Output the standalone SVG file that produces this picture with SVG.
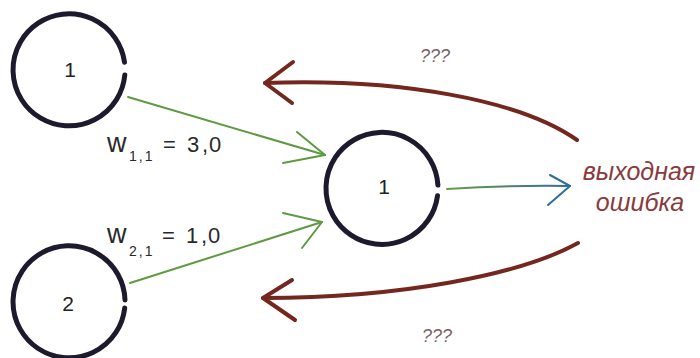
<svg xmlns="http://www.w3.org/2000/svg" width="700" height="358" viewBox="0 0 700 358">
<defs>
<linearGradient id="gb" x1="447" y1="0" x2="570" y2="0" gradientUnits="userSpaceOnUse">
<stop offset="0" stop-color="#6a9a48"/>
<stop offset="1" stop-color="#2f6e98"/>
</linearGradient>
</defs>
<style>
.node{fill:none;stroke:#1d1a2e;stroke-width:5;stroke-linecap:round}
.nl{font-family:"Liberation Sans",Arial,sans-serif;font-size:21px;fill:#222;text-anchor:middle}
.w{font-family:"Liberation Sans",Arial,sans-serif;font-size:22px;fill:#2a2a2a}
.wl{font-size:27px}
.sub{font-family:"Liberation Sans",Arial,sans-serif;font-size:14px;fill:#2a2a2a;letter-spacing:2px}
.g{fill:none;stroke:#5e9a42;stroke-width:2;stroke-linecap:round;stroke-linejoin:round}
.b{fill:none;stroke:url(#gb);stroke-width:2;stroke-linecap:round}
.bh{fill:none;stroke:#2f6e98;stroke-width:2;stroke-linecap:round;stroke-linejoin:round}
.r{fill:none;stroke:#74271f;stroke-width:4;stroke-linecap:round;stroke-linejoin:round}
.q{font-family:"Liberation Sans",Arial,sans-serif;font-style:italic;font-size:18px;fill:#7a6066}
.err{font-family:"Liberation Sans",Arial,sans-serif;font-style:italic;font-size:25px;fill:#8a3a3c;text-anchor:middle}
</style>
<g id="connectors">
<g id="w11">
<path class="g" d="M128,97 L325,155"/>
<polyline class="g" points="297,132 325,155 283,163"/>
</g>
<g id="w21">
<path class="g" d="M130,283 L322,222"/>
<polyline class="g" points="283,213 322,222 302,248"/>
</g>
<g id="out">
<path class="b" d="M447,189 Q510,185 570,186"/>
<polyline class="bh" points="550,175 570,186 548,205"/>
</g>
<g id="back-top">
<path class="r" d="M577,140 C520,100 400,78 265,83"/>
<polyline class="r" points="293,62 265,83 292,103"/>
</g>
<g id="back-bottom">
<path class="r" d="M578,243 C520,275 400,298 263,298"/>
<polyline class="r" points="292,280 263,298 295,320"/>
</g>
</g>
<g id="node-in1">
<path class="node" d="M124.8,74.9 A56,56 0 1 1 124.5,62.2"/>
<text class="nl" x="70" y="77">1</text>
</g>
<g id="node-in2">
<path class="node" d="M124.7,307.9 A56,56 0 1 1 125,300"/>
<text class="nl" x="68" y="311">2</text>
</g>
<g id="node-out">
<path class="node" d="M437.5,195.8 A56,56 0 1 1 437.9,185.1"/>
<text class="nl" x="384" y="194">1</text>
</g>
<g id="labels">
<text class="w wl" x="107" y="152">w</text>
<text class="sub" x="129" y="161">1,1</text>
<text class="w" x="163" y="152">=</text>
<text class="w" x="187 202 209" y="152">3,0</text>
<text class="w wl" x="107" y="243">w</text>
<text class="sub" x="129" y="256">2,1</text>
<text class="w" x="162" y="243">=</text>
<text class="w" x="186 201 208" y="243">1,0</text>
<text class="q" x="435" y="62" text-anchor="middle">???</text>
<text class="q" x="437" y="342" text-anchor="middle">???</text>
<text class="err" x="639" y="180">выходная</text>
<text class="err" x="640" y="211">ошибка</text>
</g>
</svg>
